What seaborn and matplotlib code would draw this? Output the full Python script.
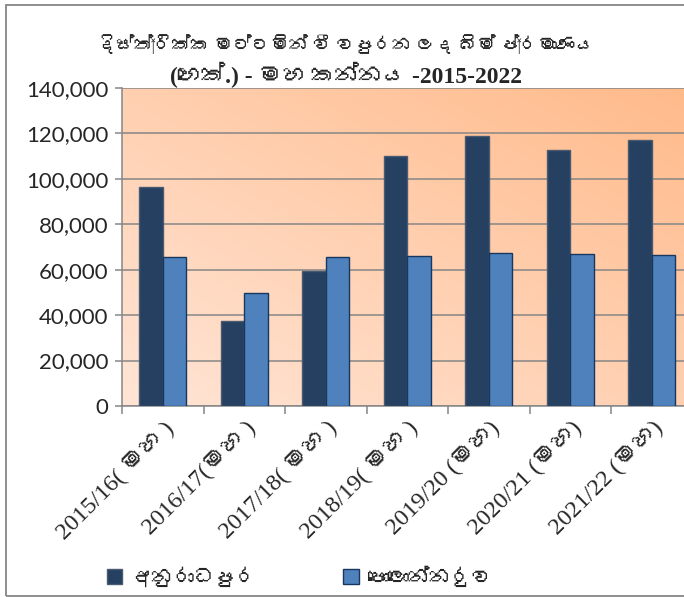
import numpy as np
import pandas as pd
import matplotlib
matplotlib.use("Agg")
import matplotlib.pyplot as plt
from matplotlib import font_manager
from matplotlib.ft2font import FT2Font
from matplotlib.patches import Rectangle
from matplotlib.ticker import FuncFormatter, MultipleLocator
import seaborn as sns

# ---------- DATA ----------
seasons = ["2015/16( මහ )", "2016/17(මහ )", "2017/18( මහ )", "2018/19( මහ )",
           "2019/20 (මහ)", "2020/21 (මහ)", "2021/22 (මහ)"]
districts = ["අනුරාධපුර", "පොලොන්නරුව"]
anuradhapura = [96300, 37600, 59600, 109900, 118800, 112500, 117100]
polonnaruwa = [65400, 49700, 65400, 66200, 67200, 66800, 66600]
title_line1 = "දිස්ත්‍රික්ක මට්ටමින් වී වපුරන ලද බිම් ප්‍රමාණය"
title_line2 = "(හෙක්.) - මහ කන්නය -2015-2022"
# --------------------------

DARK = "#264062"
LIGHT = "#4F81BD"
GRID = "#868686"


def find_sinhala_font():
    # look for any installed font that has Sinhala glyphs
    for fe in font_manager.fontManager.ttflist:
        try:
            cmap = FT2Font(fe.fname).get_charmap()
        except Exception:
            continue
        if 0x0D9A in cmap and 0x0DCA in cmap:
            return fe.name
    return None


sns.set_theme(style="white")
sin_font = find_sinhala_font()
fallback = [sin_font] if sin_font else []
plt.rcParams["font.family"] = ["DejaVu Sans"] + fallback
serif_fam = ["Liberation Serif"] + fallback + ["DejaVu Sans"]

df = pd.DataFrame({
    "season": seasons * 2,
    "district": [districts[0]] * len(seasons) + [districts[1]] * len(seasons),
    "area": anuradhapura + polonnaruwa,
})

fig = plt.figure(figsize=(6.84, 5.97), dpi=100)
fig.patch.set_facecolor("white")
ax = fig.add_axes([122 / 684, 1 - 406 / 597, 570.5 / 684, 318 / 597])

# gradient background of the plot area
u = np.linspace(0, 1, 200)
uu, vv = np.meshgrid(u, u)
t = (uu + vv) / 2
c0 = np.array([255, 229, 214]) / 255
c1 = np.array([255, 186, 138]) / 255
grad = c0[None, None, :] * (1 - t[..., None]) + c1[None, None, :] * t[..., None]
ax.imshow(grad, extent=[0, 1, 0, 1], origin="lower", transform=ax.transAxes,
          aspect="auto", zorder=0)

sns.barplot(data=df, x="season", y="area", hue="district", palette=[DARK, LIGHT],
            width=0.573, gap=0, ax=ax, legend=False, zorder=3, saturation=1)

edges = ["#4a5a70", "#17375E"]
for cont, ec in zip(ax.containers, edges):
    for bar in cont:
        bar.set_edgecolor(ec)
        bar.set_linewidth(1.0)

ax.set_xlim(-0.5, len(seasons) - 0.5)
ax.set_ylim(0, 140000)
ax.yaxis.set_major_locator(MultipleLocator(20000))
ax.yaxis.set_major_formatter(FuncFormatter(lambda v, p: f"{int(v):,}"))
ax.grid(axis="y", color=GRID, linewidth=1.1, zorder=1)
ax.set_axisbelow(True)
ax.set_xlabel("")
ax.set_ylabel("")

for s in ["top", "right"]:
    ax.spines[s].set_visible(False)
for s in ["left", "bottom"]:
    ax.spines[s].set_color(GRID)
    ax.spines[s].set_linewidth(1.1)

ax.tick_params(axis="y", which="major", left=True, length=5, width=1.1, color=GRID,
               pad=5, labelsize=16)
for lbl in ax.get_yticklabels():
    lbl.set_family(["Lato", "DejaVu Sans"])
ax.set_xticks(np.arange(len(seasons)))
ax.set_xticks(np.arange(len(seasons) + 1) - 0.5, minor=True)
ax.tick_params(axis="x", which="major", length=0, pad=8)
ax.tick_params(axis="x", which="minor", bottom=True, length=6, width=1.1, color=GRID)
ax.set_xticklabels(seasons, rotation=45, ha="right", va="top", rotation_mode="anchor",
                   fontsize=17.5, family=serif_fam)

fig.text(0.506, 1 - 45 / 597, title_line1, ha="center", va="center", fontsize=13.5,
         fontweight="bold", family=serif_fam)
fig.text(0.506, 1 - 75 / 597, title_line2, ha="center", va="center", fontsize=17,
         fontweight="bold", family=serif_fam)

handles = [Rectangle((0, 0), 1, 1, facecolor=DARK, edgecolor="#4a5a70"),
           Rectangle((0, 0), 1, 1, facecolor=LIGHT, edgecolor="#17375E")]
fig.legend(handles, districts, loc="center left", bbox_to_anchor=(88 / 684, 1 - 577 / 597),
           ncol=2, frameon=False, fontsize=15, handlelength=0.75, handleheight=0.75,
           handletextpad=0.4, columnspacing=4.2)

# outer chart frame
fig.patches.append(Rectangle((6 / 684, 1 - 596 / 597), 1.2, 591 / 597,
                             transform=fig.transFigure, fill=False,
                             edgecolor=GRID, linewidth=1.3))

fig.savefig("out.png", dpi=100)
